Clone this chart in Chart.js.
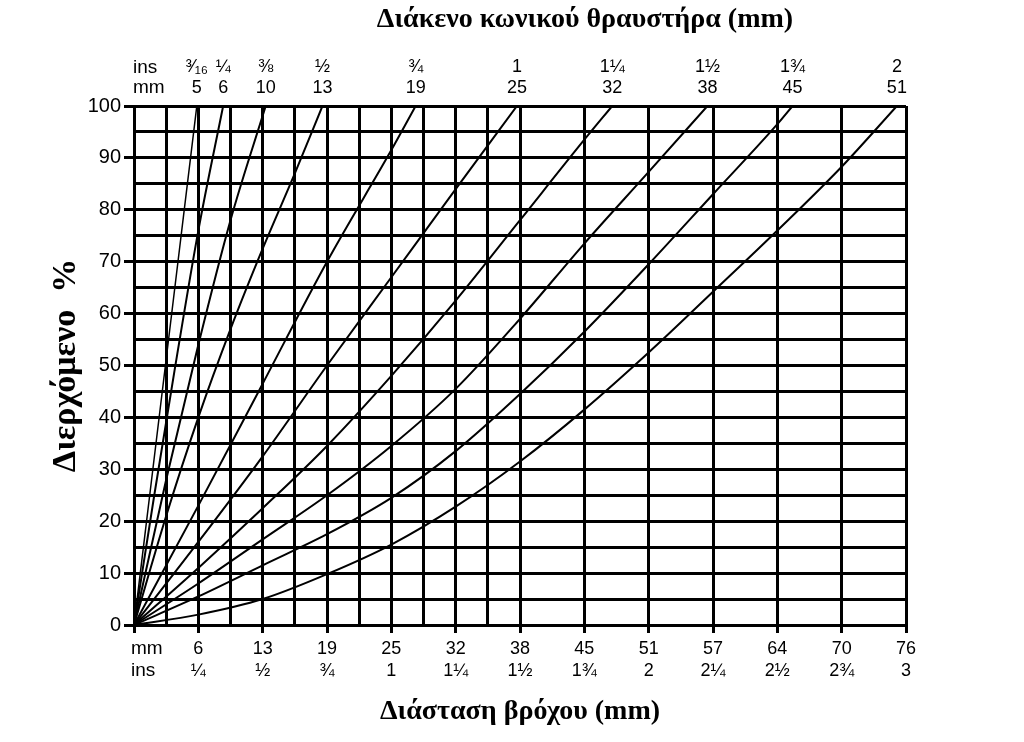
<!DOCTYPE html>
<html>
<head>
<meta charset="utf-8">
<script src="https://cdn.jsdelivr.net/npm/chart.js@4.4.1/dist/chart.umd.min.js"></script>
<style>
  html, body { margin: 0; padding: 0; background: #fff; }
  #wrap { width: 1024px; height: 742px; }
</style>
</head>
<body>
<div id="wrap"><canvas id="chart" width="1024" height="742"></canvas></div>
<script>
// crusher gap settings (top scale)
const gapMm = [5, 6, 10, 13, 19, 25, 32, 38, 45, 51];
const gapIns = ['³⁄₁₆', '¼', '⅜', '½', '¾', '1', '1¼', '1½', '1¾', '2'];

// screen aperture labels (bottom scale), one per quarter inch
const apertureMm = ['6', '13', '19', '25', '32', '38', '45', '51', '57', '64', '70', '76'];
const apertureIns = ['¼', '½', '¾', '1', '1¼', '1½', '1¾', '2', '2¼', '2½', '2¾', '3'];

// % passing for each gap setting, [aperture mm, % passing]
const pass5 = [[0, 0], [1.55, 25], [3.1, 50], [4.65, 75], [6.2, 100]];
const pass6 = [[0, 0], [2.0, 25], [4.0, 49], [6.35, 76], [8.8, 100]];
const pass10 = [[0, 0], [3.175, 28], [6.35, 54], [9.525, 78], [13.0, 100]];
const pass13 = [[0, 0], [3.175, 21], [6.35, 40], [9.525, 57], [12.7, 72.5], [15.875, 87], [18.6, 100]];
const pass19 = [[0, 0], [6.35, 23], [12.7, 46.5], [19.05, 70], [25.4, 91.5], [27.8, 100]];
const pass25 = [[0, 0], [6.35, 16], [12.7, 32.5], [19.05, 50], [25.4, 67], [31.75, 84], [37.8, 100]];
const pass32 = [[0, 0], [6.35, 11], [12.7, 22.5], [19.05, 34.5], [25.4, 48], [31.75, 62.5], [38.1, 78], [44.45, 93.5], [47.2, 100]];
const pass38 = [[0, 0], [6.35, 8], [12.7, 16.5], [19.05, 25], [25.4, 34.5], [31.75, 45.5], [38.1, 59], [44.45, 73.5], [50.8, 87.3], [56.6, 100]];
const pass45 = [[0, 0], [6.35, 5.5], [12.7, 11.5], [19.05, 17.5], [25.4, 24.5], [31.75, 33.5], [38.1, 44.5], [44.45, 56.5], [50.8, 69.5], [57.15, 83], [63.5, 96.5], [65, 100]];
const pass51 = [[0, 0], [6.35, 2], [12.7, 5], [19.05, 9.8], [25.4, 15.5], [31.75, 22.8], [38.1, 31.5], [44.45, 41.5], [50.8, 52.5], [57.15, 64.2], [63.5, 76], [69.85, 88.3], [75.3, 100]];

const curves = [pass5, pass6, pass10, pass13, pass19, pass25, pass32, pass38, pass45, pass51];

const EIGHTH = 3.175; // mm
const XMAX = 76.2;
const sans = 'Liberation Sans, Arial, sans-serif';
const serif = 'Liberation Serif, Times New Roman, serif';

// grid every 1/8" up to 1½", then every 1/4"
const xGrid = [];
for (let k = 0; k <= 24; k++) {
    if (k <= 12 || k % 2 === 0) xGrid.push(Number((k * EIGHTH).toFixed(3)));
}
const isQuarter = v => Math.round(v / EIGHTH) % 2 === 0;

const captions = {
    id: 'captions',
    afterDraw(chart) {
        const ctx = chart.ctx;
        const area = chart.chartArea;
        ctx.save();
        ctx.fillStyle = '#000';
        ctx.textBaseline = 'middle';
        ctx.textAlign = 'center';
        ctx.font = 'bold 28px ' + serif;
        ctx.fillText('Διάκενο κωνικού θραυστήρα (mm)', 585, 20);

        ctx.textAlign = 'left';
        ctx.font = '19px ' + sans;
        ctx.fillText('ins', area.left - 1, 68);
        ctx.fillText('mm', area.left - 1, 88);
        ctx.fillText('mm', area.left - 3, 649);
        ctx.fillText('ins', area.left - 3, 671);
        ctx.restore();
    }
};

new Chart(document.getElementById('chart'), {
    type: 'line',
    data: {
        datasets: curves.map((c, i) => ({
            label: gapMm[i] + ' mm',
            data: c.map(p => ({ x: p[0], y: p[1] })),
            borderColor: '#000',
            borderWidth: i === 0 ? 1.5 : 2,
            pointRadius: 0,
            cubicInterpolationMode: 'monotone',
            fill: false,
            xAxisID: 'x',
            yAxisID: 'y'
        }))
    },
    options: {
        responsive: false,
        animation: false,
        devicePixelRatio: 1,
        layout: { padding: { left: 0, right: 118, top: 0, bottom: 0 } },
        plugins: {
            legend: { display: false },
            tooltip: { enabled: false }
        },
        scales: {
            x: {
                type: 'linear',
                position: 'bottom',
                min: 0,
                max: XMAX,
                afterBuildTicks: s => { s.ticks = xGrid.map(v => ({ value: v })); },
                afterFit: s => { s.height = 117; },
                ticks: {
                    autoSkip: false,
                    maxRotation: 0,
                    padding: 5,
                    color: '#000',
                    font: { family: sans, size: 18, lineHeight: 1.22 },
                    callback: v => {
                        const k = Math.round(v / EIGHTH);
                        if (k > 0 && k % 2 === 0) return [apertureMm[k / 2 - 1], apertureIns[k / 2 - 1]];
                        return '';
                    }
                },
                grid: {
                    color: '#000',
                    lineWidth: 3,
                    tickLength: 8,
                    tickWidth: 3,
                    tickColor: c => (c.tick && isQuarter(c.tick.value)) ? '#000' : 'rgba(0,0,0,0)'
                },
                border: { display: false },
                title: {
                    display: true,
                    text: 'Διάσταση βρόχου (mm)',
                    color: '#000',
                    font: { family: serif, size: 28, weight: 'bold', lineHeight: 1.2 },
                    padding: { top: 0, bottom: 13 }
                }
            },
            xTop: {
                type: 'linear',
                position: 'top',
                min: 0,
                max: XMAX,
                afterBuildTicks: s => { s.ticks = curves.map(c => ({ value: c[c.length - 1][0] })); },
                afterFit: s => { s.height = 106; },
                grid: { display: false, drawTicks: false },
                border: { display: false },
                ticks: {
                    autoSkip: false,
                    maxRotation: 0,
                    padding: 8,
                    color: '#000',
                    font: { family: sans, size: 18, lineHeight: 1.15 },
                    callback: (v, i) => [gapIns[i], String(gapMm[i])]
                }
            },
            y: {
                min: 0,
                max: 100,
                afterFit: s => { s.width = 134; },
                ticks: {
                    stepSize: 5,
                    autoSkip: false,
                    padding: 3,
                    color: '#000',
                    font: { family: sans, size: 20 },
                    callback: v => v % 10 === 0 ? String(v) : ''
                },
                grid: {
                    color: '#000',
                    lineWidth: 3,
                    tickLength: 10,
                    tickWidth: 3,
                    tickColor: c => (c.tick && c.tick.value % 10 === 0) ? '#000' : 'rgba(0,0,0,0)'
                },
                border: { display: false },
                title: {
                    display: true,
                    text: 'Διερχόμενο  %',
                    color: '#000',
                    font: { family: serif, size: 34, weight: 'bold', lineHeight: 1.2 },
                    padding: { top: 46, bottom: 0 }
                }
            }
        }
    },
    plugins: [captions]
});
</script>
</body>
</html>
